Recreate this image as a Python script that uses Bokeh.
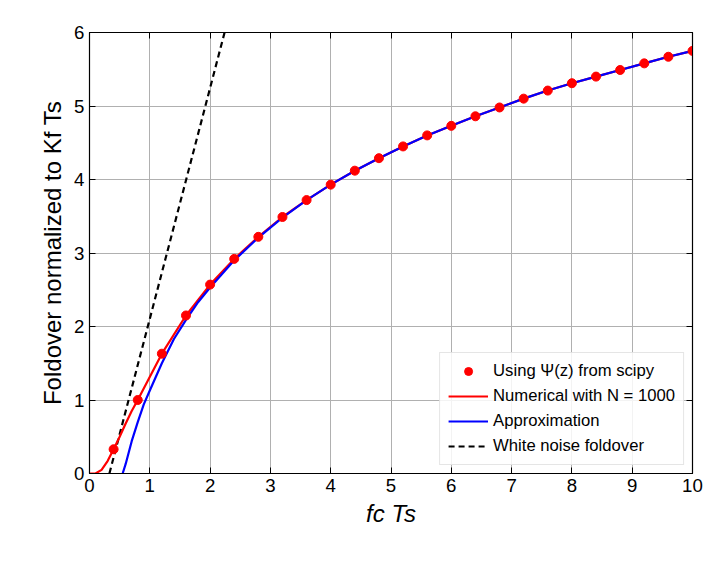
from bokeh.plotting import figure
from bokeh.models import LinearAxis, Legend, LegendItem, FixedTicker
from bokeh.embed import file_html
from bokeh.resources import INLINE

dot_x = [0.4,0.8,1.2,1.6,2.0,2.4,2.8,3.2,3.6,4.0,4.4,4.8,5.2,5.6,6.0,6.4,6.8,7.2,7.6,8.0,8.4,8.8,9.2,9.6,10.0]
dot_y = [0.33,1.0,1.63,2.15,2.57,2.92,3.22,3.49,3.72,3.93,4.12,4.29,4.45,4.60,4.73,4.86,4.98,5.10,5.21,5.31,5.40,5.49,5.58,5.67,5.75]
num_x = [0.0,0.1,0.2,0.3,0.4,0.5,0.6,0.7] + dot_x[1:]
num_y = [0.0,0.0,0.05,0.17,0.33,0.5,0.68,0.85] + dot_y[1:]
app_x = [0.55,0.6,0.7,0.8,0.9,1.0,1.2,1.4,1.6,1.8,2.0,2.4,2.8,3.2,3.6,4.0,4.4,4.8,5.2,5.6,6.0,6.4,6.8,7.2,7.6,8.0,8.4,8.8,9.2,9.6,10.0]
app_y = [0.0,0.13,0.44,0.70,0.94,1.13,1.50,1.83,2.09,2.33,2.53,2.90,3.21,3.48,3.72,3.93,4.12,4.29,4.45,4.60,4.73,4.86,4.98,5.10,5.21,5.31,5.40,5.49,5.58,5.67,5.75]
wn_x = [0.33, 2.24]
wn_y = [0.0, 6.0]

F = "Liberation Sans"
p = figure(width=712, height=567, x_range=(0,10), y_range=(0,6),
           output_backend="svg", toolbar_location=None,
           min_border_left=89, min_border_bottom=94, min_border_top=32, min_border_right=20)
p.background_fill_color = "white"
p.outline_line_color = "black"
p.outline_line_width = 1.2
p.grid.grid_line_color = "#b0b0b0"
p.grid.grid_line_width = 1

for ax in [p.xaxis[0], p.yaxis[0]]:
    ax.major_tick_in = 6; ax.major_tick_out = 0
    ax.minor_tick_line_color = None
    ax.axis_line_color = "black"
    ax.major_tick_line_color = "black"
    ax.major_label_text_font = F
    ax.major_label_text_color = "black"
    ax.major_label_text_font_size = "14pt"
    ax.axis_label_text_font = F
    ax.axis_label_text_color = "black"
    ax.axis_label_text_font_size = "18pt"
    ax.axis_label_text_font_style = "normal"
p.xaxis.ticker = FixedTicker(ticks=list(range(0,11)))
p.yaxis.ticker = FixedTicker(ticks=list(range(0,7)))
p.xaxis.axis_label = "fc Ts"
p.xaxis.axis_label_text_font_style = "italic"
p.yaxis.axis_label = "Foldover normalized to Kf Ts"

top = LinearAxis(ticker=FixedTicker(ticks=list(range(0,11))), major_label_text_font_size="0pt",
                 major_tick_in=6, major_tick_out=0, minor_tick_line_color=None)
right = LinearAxis(ticker=FixedTicker(ticks=list(range(0,7))), major_label_text_font_size="0pt",
                   major_tick_in=6, major_tick_out=0, minor_tick_line_color=None)
p.add_layout(top, "above")
p.add_layout(right, "right")

wn = p.line(wn_x, wn_y, line_color="black", line_dash="6 4", line_width=2.2)
num = p.line(num_x, num_y, line_color="red", line_width=2.2)
app = p.line(app_x, app_y, line_color="blue", line_width=2.2)
dots = p.scatter(dot_x, dot_y, size=9, color="red")

leg = Legend(items=[LegendItem(label="Using Ψ(z) from scipy", renderers=[dots]),
                    LegendItem(label="Numerical with N = 1000", renderers=[num]),
                    LegendItem(label="Approximation", renderers=[app]),
                    LegendItem(label="White noise foldover", renderers=[wn])],
             location="bottom_right", label_text_font=F, label_text_font_size="12.5pt",
             label_text_color="black",
             border_line_color="#cccccc", background_fill_alpha=0.85, glyph_width=40,
             spacing=5, padding=8, margin=8)
p.add_layout(leg)

open("out.html", "w").write(file_html(p, INLINE))
